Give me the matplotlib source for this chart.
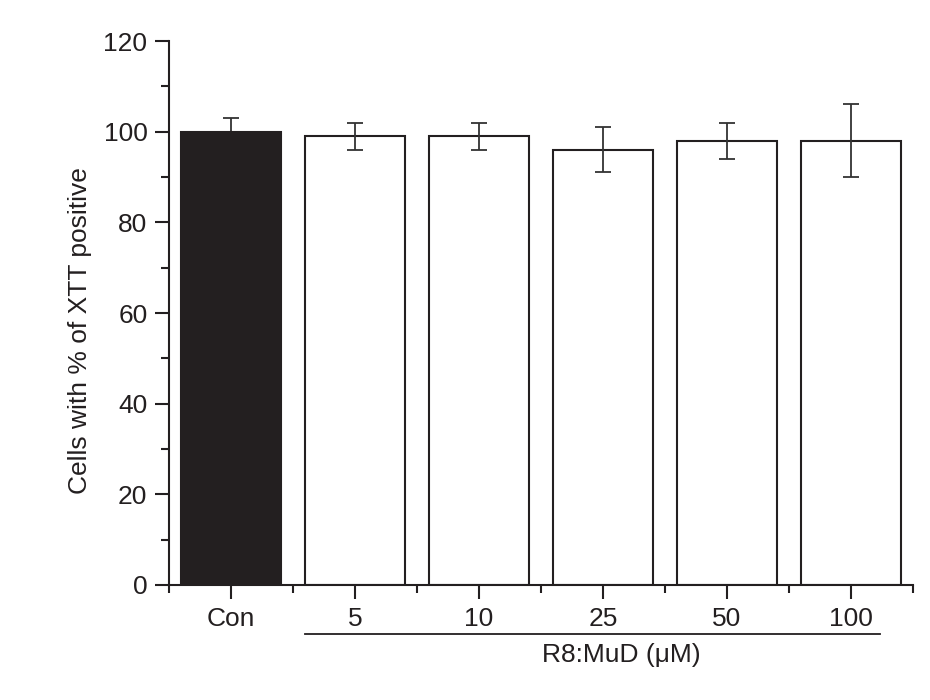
import matplotlib
matplotlib.use("Agg")
import matplotlib.pyplot as plt
from matplotlib.ticker import MultipleLocator

categories = ["Con", "5", "10", "25", "50", "100"]
values = [100, 99, 99, 96, 98, 98]
errors = [3, 3, 3, 5, 4, 8]
colors = ["#231f20", "white", "white", "white", "white", "white"]

plt.rcParams['font.family'] = ['Liberation Sans', 'DejaVu Sans']

fig = plt.figure(figsize=(9.3, 7), dpi=100)
ax = fig.add_axes([0.1817, 0.1643, 0.8, 0.7771])

x = list(range(len(categories)))
ax.bar(x, values, width=0.8, color=colors, edgecolor="#231f20", linewidth=1.5, zorder=2)
# control error bar sits behind the black bar, the rest on top
ax.errorbar(x[:1], values[:1], yerr=errors[:1], fmt="none", ecolor="#333333",
            elinewidth=1.3, capsize=6, capthick=1.3, zorder=1)
ax.errorbar(x[1:], values[1:], yerr=errors[1:], fmt="none", ecolor="#333333",
            elinewidth=1.3, capsize=6, capthick=1.3, zorder=3)

ax.set_xlim(-0.5, 5.5)
ax.set_ylim(0, 120)
ax.set_xticks(x)
ax.set_xticklabels(categories)
ax.xaxis.set_minor_locator(MultipleLocator(1, offset=0.5))
ax.yaxis.set_major_locator(MultipleLocator(20))
ax.yaxis.set_minor_locator(MultipleLocator(10))

for s in ["top", "right"]:
    ax.spines[s].set_visible(False)
for s in ["left", "bottom"]:
    ax.spines[s].set_linewidth(1.5)
    ax.spines[s].set_color("#231f20")

ax.tick_params(which="major", length=10, width=1.5, labelsize=19, colors="#231f20", pad=5.5)
ax.tick_params(which="minor", length=6, width=1.5, colors="#231f20")
ax.set_ylabel("Cells with % of XTT positive", fontsize=19, color="#231f20")
ax.yaxis.set_label_coords(-0.103, 0.467)

# group line under the concentration labels
ax.plot([0.6, 5.23], [-10.8, -10.8], color="#231f20", linewidth=1.3, clip_on=False)
ax.text(3.15, -15.4, "R8:MuD (\u03bcM)", ha="center", va="center", fontsize=19,
        color="#231f20")

fig.savefig("out.png", dpi=100)
